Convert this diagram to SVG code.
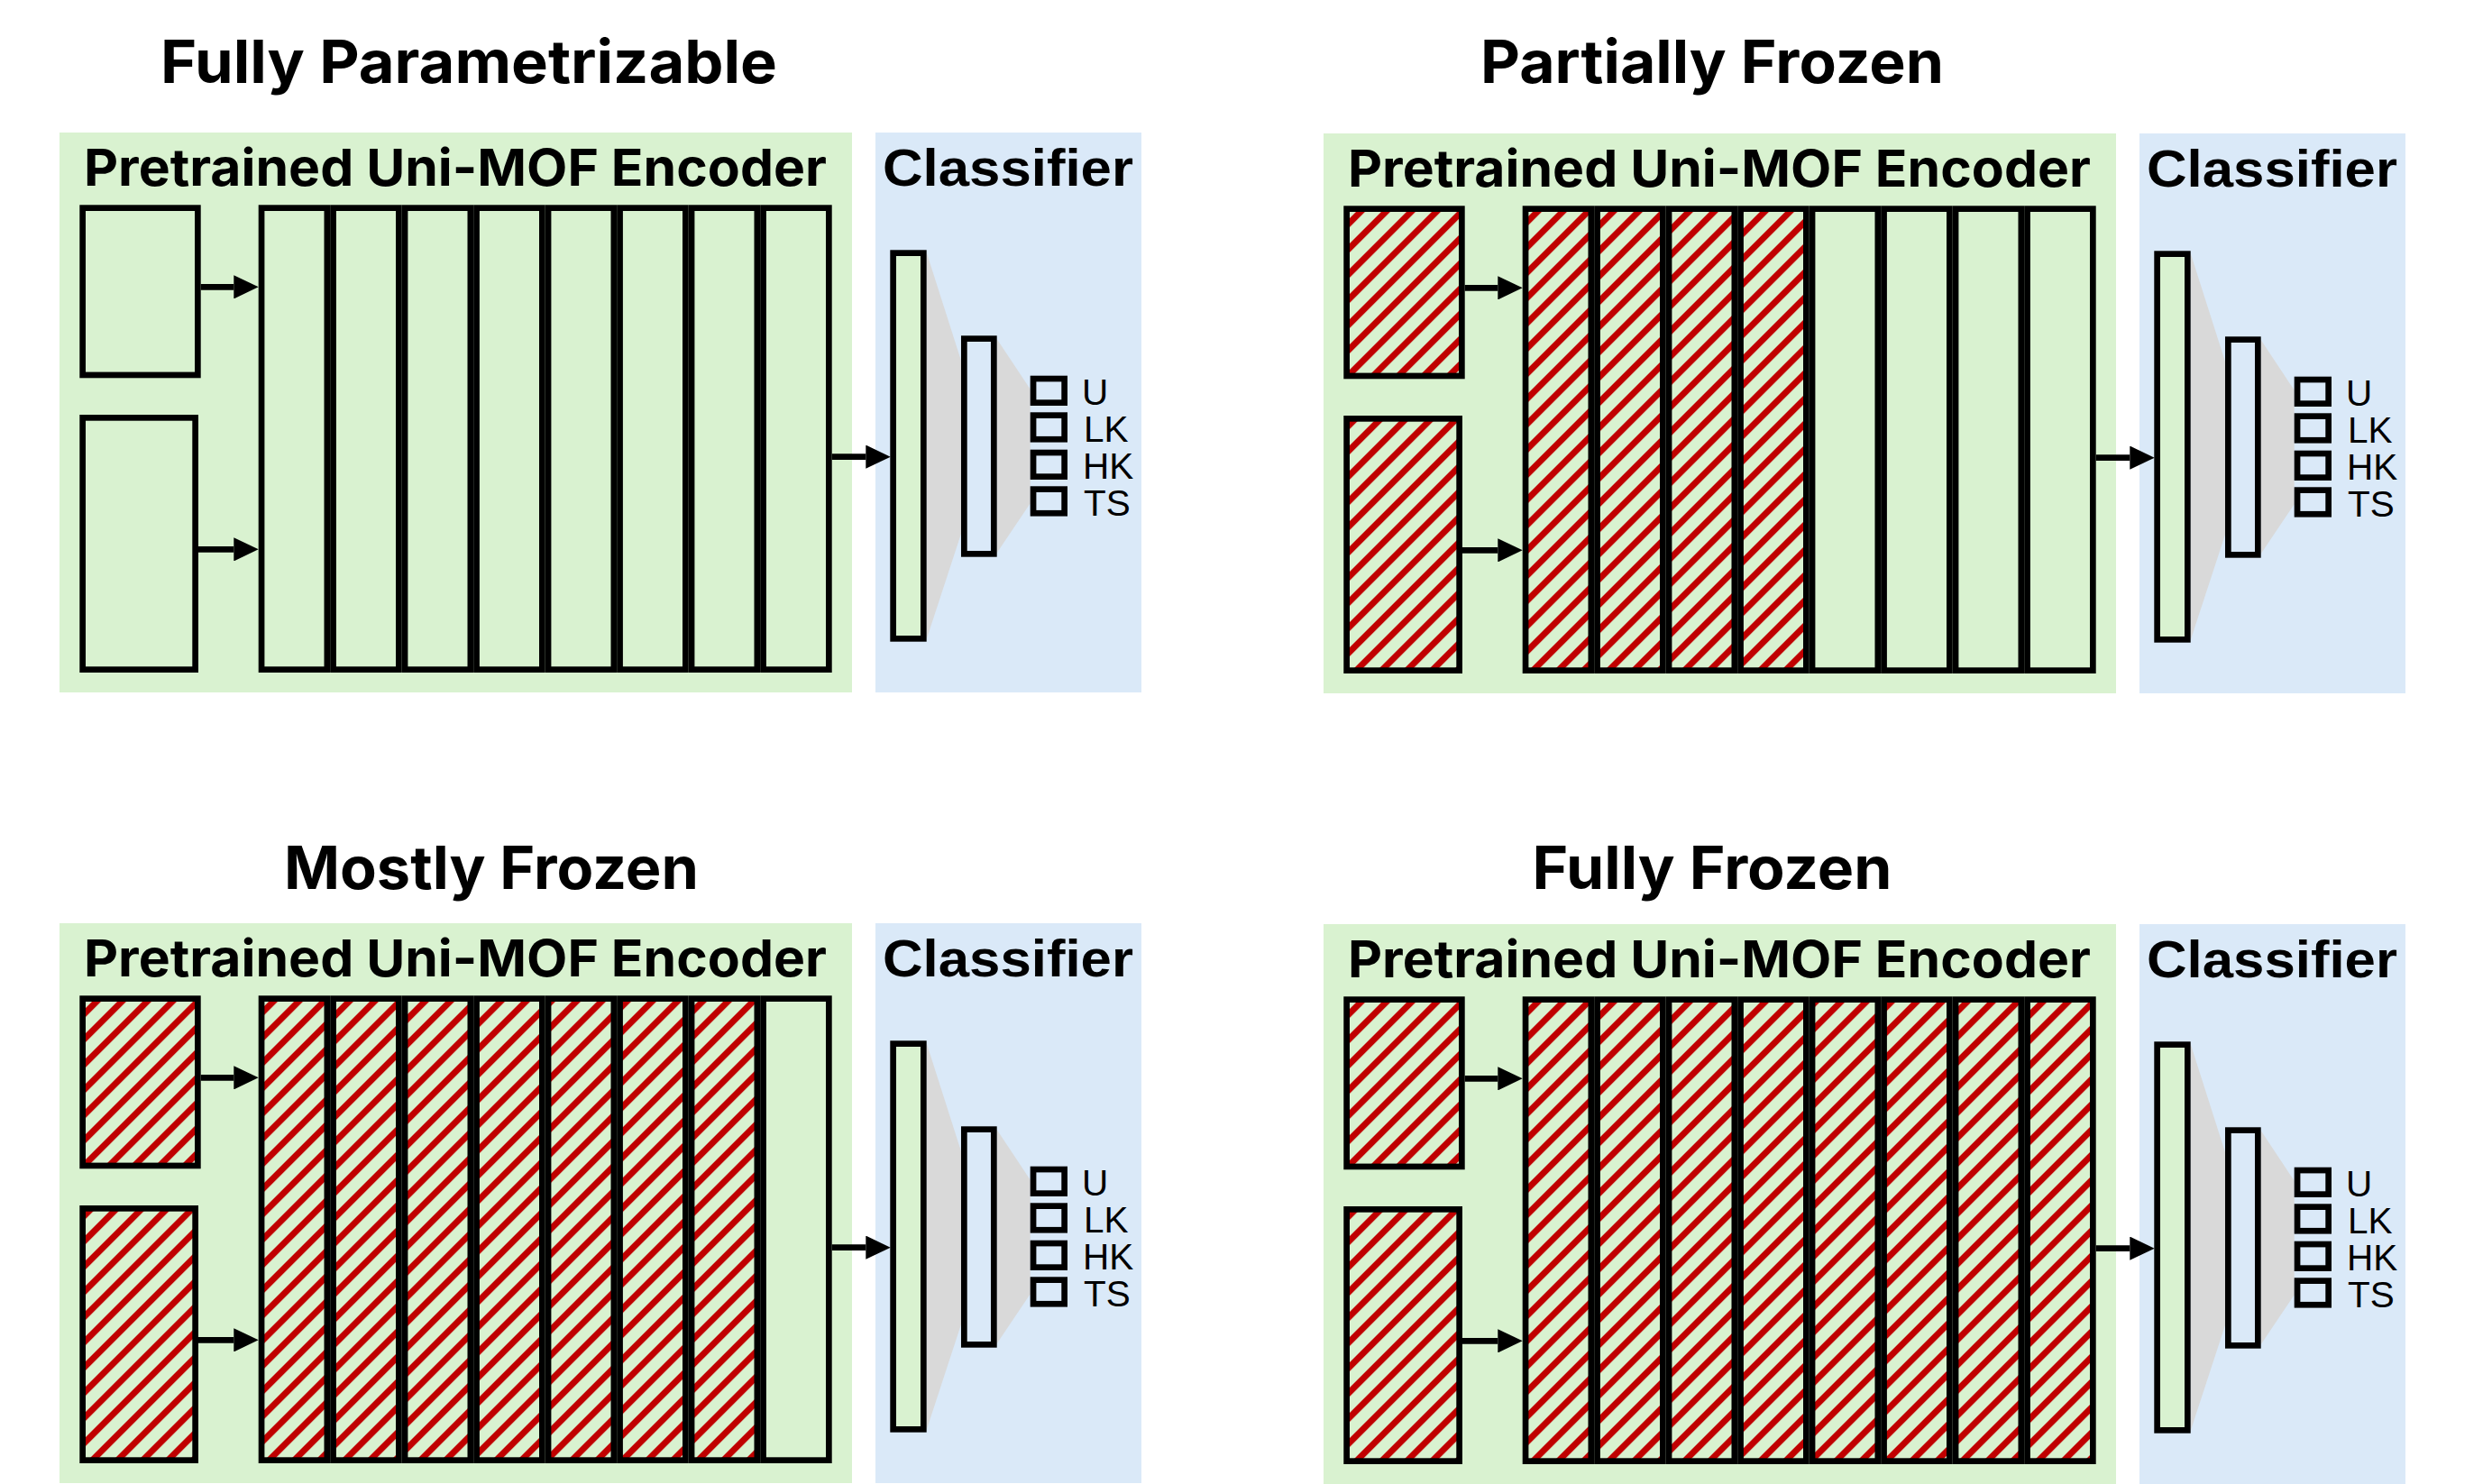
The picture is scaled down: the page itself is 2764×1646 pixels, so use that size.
<svg xmlns="http://www.w3.org/2000/svg" width="2764" height="1646" viewBox="0 0 2764 1646">
<style>
.title{font-family:Inter,"Open Sans","Noto Sans",sans-serif;font-weight:700;font-size:66px;fill:#000}
.enc{font-family:Inter,"Open Sans","Noto Sans",sans-serif;font-weight:700;font-size:57px;fill:#000}
.cls{font-family:"Liberation Sans",Arial,sans-serif;font-weight:700;font-size:58px;fill:#000}
.out{font-family:"Liberation Sans",Arial,sans-serif;font-size:40.5px;fill:#000}
.bx{stroke:#000;stroke-width:6.7}
.g{fill:#D9F2D0}
.h{fill:url(#hatch)}
.b{fill:#DAE9F8}
.fan{fill:#D9D9D9}
.conn line{stroke:#000;stroke-width:6.7;marker-end:url(#ah)}
</style>
<defs>
<pattern id="hatch" patternUnits="userSpaceOnUse" width="19.8" height="19.8" patternTransform="rotate(45)">
<rect width="19.8" height="19.8" fill="#D9F2D0"/>
<rect width="7" height="19.8" fill="#C00000"/>
</pattern>
<marker id="ah" markerUnits="userSpaceOnUse" markerWidth="27.4" markerHeight="26.3" viewBox="0 0 27.4 26.3" refX="0" refY="13.15" orient="auto">
<path d="M0,0 L27.4,13.15 L0,26.3 z" fill="#000"/>
</marker>
</defs>
<rect width="2764" height="1646" fill="#fff"/>

<g id="titles">
<text class="title" x="520" y="91.7" text-anchor="middle" textLength="684" lengthAdjust="spacingAndGlyphs">Fully Parametrizable</text>
<text class="title" x="1899" y="91.7" text-anchor="middle" textLength="514" lengthAdjust="spacingAndGlyphs">Partially Frozen</text>
<text class="title" x="545" y="985.7" text-anchor="middle" textLength="460" lengthAdjust="spacingAndGlyphs">Mostly Frozen</text>
<text class="title" x="1899" y="985.7" text-anchor="middle" textLength="399" lengthAdjust="spacingAndGlyphs">Fully Frozen</text>
</g>

<!-- Panel 1: Fully Parametrizable -->
<g id="panel-fully-parametrizable">
<g id="p1-encoder">
<rect class="g" x="66" y="147" width="879" height="621"/>
<text class="enc" x="93" y="206" textLength="824" lengthAdjust="spacingAndGlyphs">Pretrained Uni-MOF Encoder</text>
</g>
<g id="p1-classifier">
<rect class="b" x="971" y="147" width="295" height="621"/>
<text class="cls" x="979" y="206" textLength="278" lengthAdjust="spacingAndGlyphs">Classifier</text>
</g>
<g id="p1-input1"><rect class="bx g" x="91.65" y="230.65" width="127.7" height="185.3"/></g>
<g id="p1-input2"><rect class="bx g" x="91.65" y="463.35" width="125" height="279.3"/></g>
<g id="p1-layer1"><rect class="bx g" x="290.05" y="230.65" width="72.8" height="512"/></g>
<g id="p1-layer2"><rect class="bx g" x="369.55" y="230.65" width="72.8" height="512"/></g>
<g id="p1-layer3"><rect class="bx g" x="449.05" y="230.65" width="72.8" height="512"/></g>
<g id="p1-layer4"><rect class="bx g" x="528.55" y="230.65" width="72.8" height="512"/></g>
<g id="p1-layer5"><rect class="bx g" x="608.05" y="230.65" width="72.8" height="512"/></g>
<g id="p1-layer6"><rect class="bx g" x="687.55" y="230.65" width="72.8" height="512"/></g>
<g id="p1-layer7"><rect class="bx g" x="767.05" y="230.65" width="72.8" height="512"/></g>
<g id="p1-layer8"><rect class="bx g" x="846.55" y="230.65" width="72.8" height="512"/></g>
<g id="p1-fans">
<polygon class="fan" points="1027.7,280 1066,400 1066,592 1027.7,709"/>
<polygon class="fan" points="1105.7,376 1142.7,431.7 1142.7,558.3 1105.7,613.3"/>
</g>
<g id="p1-hidden1"><rect class="bx g" x="990.65" y="280.65" width="33.7" height="427.7"/></g>
<g id="p1-hidden2"><rect class="bx b" x="1069.35" y="375.65" width="33" height="238.7"/></g>
<g id="p1-out-u"><rect class="bx b" x="1146.05" y="420.05" width="34.6" height="26.6"/><text class="out" x="1200" y="449">U</text></g>
<g id="p1-out-lk"><rect class="bx b" x="1146.05" y="460.65" width="34.6" height="26.6"/><text class="out" x="1202" y="490">LK</text></g>
<g id="p1-out-hk"><rect class="bx b" x="1146.05" y="502.05" width="34.6" height="26.6"/><text class="out" x="1201" y="531">HK</text></g>
<g id="p1-out-ts"><rect class="bx b" x="1146.05" y="542.65" width="34.6" height="26.6"/><text class="out" x="1202" y="571.7">TS</text></g>
<g id="p1-connectors" class="conn">
<line x1="222.7" y1="318.3" x2="259.3" y2="318.3"/>
<line x1="220" y1="609.3" x2="259.3" y2="609.3"/>
<line x1="922.7" y1="506.7" x2="960.3" y2="506.7"/>
</g>
</g>

<!-- Panel 2: Partially Frozen -->
<g id="panel-partially-frozen" transform="translate(1402,1)">
<g id="p2-encoder">
<rect class="g" x="66" y="147" width="879" height="621"/>
<text class="enc" x="93" y="206" textLength="824" lengthAdjust="spacingAndGlyphs">Pretrained Uni-MOF Encoder</text>
</g>
<g id="p2-classifier">
<rect class="b" x="971" y="147" width="295" height="621"/>
<text class="cls" x="979" y="206" textLength="278" lengthAdjust="spacingAndGlyphs">Classifier</text>
</g>
<g id="p2-input1"><rect class="bx h" x="91.65" y="230.65" width="127.7" height="185.3"/></g>
<g id="p2-input2"><rect class="bx h" x="91.65" y="463.35" width="125" height="279.3"/></g>
<g id="p2-layer1"><rect class="bx h" x="290.05" y="230.65" width="72.8" height="512"/></g>
<g id="p2-layer2"><rect class="bx h" x="369.55" y="230.65" width="72.8" height="512"/></g>
<g id="p2-layer3"><rect class="bx h" x="449.05" y="230.65" width="72.8" height="512"/></g>
<g id="p2-layer4"><rect class="bx h" x="528.55" y="230.65" width="72.8" height="512"/></g>
<g id="p2-layer5"><rect class="bx g" x="608.05" y="230.65" width="72.8" height="512"/></g>
<g id="p2-layer6"><rect class="bx g" x="687.55" y="230.65" width="72.8" height="512"/></g>
<g id="p2-layer7"><rect class="bx g" x="767.05" y="230.65" width="72.8" height="512"/></g>
<g id="p2-layer8"><rect class="bx g" x="846.55" y="230.65" width="72.8" height="512"/></g>
<g id="p2-fans">
<polygon class="fan" points="1027.7,280 1066,400 1066,592 1027.7,709"/>
<polygon class="fan" points="1105.7,376 1142.7,431.7 1142.7,558.3 1105.7,613.3"/>
</g>
<g id="p2-hidden1"><rect class="bx g" x="990.65" y="280.65" width="33.7" height="427.7"/></g>
<g id="p2-hidden2"><rect class="bx b" x="1069.35" y="375.65" width="33" height="238.7"/></g>
<g id="p2-out-u"><rect class="bx b" x="1146.05" y="420.05" width="34.6" height="26.6"/><text class="out" x="1200" y="449">U</text></g>
<g id="p2-out-lk"><rect class="bx b" x="1146.05" y="460.65" width="34.6" height="26.6"/><text class="out" x="1202" y="490">LK</text></g>
<g id="p2-out-hk"><rect class="bx b" x="1146.05" y="502.05" width="34.6" height="26.6"/><text class="out" x="1201" y="531">HK</text></g>
<g id="p2-out-ts"><rect class="bx b" x="1146.05" y="542.65" width="34.6" height="26.6"/><text class="out" x="1202" y="571.7">TS</text></g>
<g id="p2-connectors" class="conn">
<line x1="222.7" y1="318.3" x2="259.3" y2="318.3"/>
<line x1="220" y1="609.3" x2="259.3" y2="609.3"/>
<line x1="922.7" y1="506.7" x2="960.3" y2="506.7"/>
</g>
</g>

<!-- Panel 3: Mostly Frozen -->
<g id="panel-mostly-frozen" transform="translate(0,877)">
<g id="p3-encoder">
<rect class="g" x="66" y="147" width="879" height="621"/>
<text class="enc" x="93" y="206" textLength="824" lengthAdjust="spacingAndGlyphs">Pretrained Uni-MOF Encoder</text>
</g>
<g id="p3-classifier">
<rect class="b" x="971" y="147" width="295" height="621"/>
<text class="cls" x="979" y="206" textLength="278" lengthAdjust="spacingAndGlyphs">Classifier</text>
</g>
<g id="p3-input1"><rect class="bx h" x="91.65" y="230.65" width="127.7" height="185.3"/></g>
<g id="p3-input2"><rect class="bx h" x="91.65" y="463.35" width="125" height="279.3"/></g>
<g id="p3-layer1"><rect class="bx h" x="290.05" y="230.65" width="72.8" height="512"/></g>
<g id="p3-layer2"><rect class="bx h" x="369.55" y="230.65" width="72.8" height="512"/></g>
<g id="p3-layer3"><rect class="bx h" x="449.05" y="230.65" width="72.8" height="512"/></g>
<g id="p3-layer4"><rect class="bx h" x="528.55" y="230.65" width="72.8" height="512"/></g>
<g id="p3-layer5"><rect class="bx h" x="608.05" y="230.65" width="72.8" height="512"/></g>
<g id="p3-layer6"><rect class="bx h" x="687.55" y="230.65" width="72.8" height="512"/></g>
<g id="p3-layer7"><rect class="bx h" x="767.05" y="230.65" width="72.8" height="512"/></g>
<g id="p3-layer8"><rect class="bx g" x="846.55" y="230.65" width="72.8" height="512"/></g>
<g id="p3-fans">
<polygon class="fan" points="1027.7,280 1066,400 1066,592 1027.7,709"/>
<polygon class="fan" points="1105.7,376 1142.7,431.7 1142.7,558.3 1105.7,613.3"/>
</g>
<g id="p3-hidden1"><rect class="bx g" x="990.65" y="280.65" width="33.7" height="427.7"/></g>
<g id="p3-hidden2"><rect class="bx b" x="1069.35" y="375.65" width="33" height="238.7"/></g>
<g id="p3-out-u"><rect class="bx b" x="1146.05" y="420.05" width="34.6" height="26.6"/><text class="out" x="1200" y="449">U</text></g>
<g id="p3-out-lk"><rect class="bx b" x="1146.05" y="460.65" width="34.6" height="26.6"/><text class="out" x="1202" y="490">LK</text></g>
<g id="p3-out-hk"><rect class="bx b" x="1146.05" y="502.05" width="34.6" height="26.6"/><text class="out" x="1201" y="531">HK</text></g>
<g id="p3-out-ts"><rect class="bx b" x="1146.05" y="542.65" width="34.6" height="26.6"/><text class="out" x="1202" y="571.7">TS</text></g>
<g id="p3-connectors" class="conn">
<line x1="222.7" y1="318.3" x2="259.3" y2="318.3"/>
<line x1="220" y1="609.3" x2="259.3" y2="609.3"/>
<line x1="922.7" y1="506.7" x2="960.3" y2="506.7"/>
</g>
</g>

<!-- Panel 4: Fully Frozen -->
<g id="panel-fully-frozen" transform="translate(1402,878)">
<g id="p4-encoder">
<rect class="g" x="66" y="147" width="879" height="621"/>
<text class="enc" x="93" y="206" textLength="824" lengthAdjust="spacingAndGlyphs">Pretrained Uni-MOF Encoder</text>
</g>
<g id="p4-classifier">
<rect class="b" x="971" y="147" width="295" height="621"/>
<text class="cls" x="979" y="206" textLength="278" lengthAdjust="spacingAndGlyphs">Classifier</text>
</g>
<g id="p4-input1"><rect class="bx h" x="91.65" y="230.65" width="127.7" height="185.3"/></g>
<g id="p4-input2"><rect class="bx h" x="91.65" y="463.35" width="125" height="279.3"/></g>
<g id="p4-layer1"><rect class="bx h" x="290.05" y="230.65" width="72.8" height="512"/></g>
<g id="p4-layer2"><rect class="bx h" x="369.55" y="230.65" width="72.8" height="512"/></g>
<g id="p4-layer3"><rect class="bx h" x="449.05" y="230.65" width="72.8" height="512"/></g>
<g id="p4-layer4"><rect class="bx h" x="528.55" y="230.65" width="72.8" height="512"/></g>
<g id="p4-layer5"><rect class="bx h" x="608.05" y="230.65" width="72.8" height="512"/></g>
<g id="p4-layer6"><rect class="bx h" x="687.55" y="230.65" width="72.8" height="512"/></g>
<g id="p4-layer7"><rect class="bx h" x="767.05" y="230.65" width="72.8" height="512"/></g>
<g id="p4-layer8"><rect class="bx h" x="846.55" y="230.65" width="72.8" height="512"/></g>
<g id="p4-fans">
<polygon class="fan" points="1027.7,280 1066,400 1066,592 1027.7,709"/>
<polygon class="fan" points="1105.7,376 1142.7,431.7 1142.7,558.3 1105.7,613.3"/>
</g>
<g id="p4-hidden1"><rect class="bx g" x="990.65" y="280.65" width="33.7" height="427.7"/></g>
<g id="p4-hidden2"><rect class="bx b" x="1069.35" y="375.65" width="33" height="238.7"/></g>
<g id="p4-out-u"><rect class="bx b" x="1146.05" y="420.05" width="34.6" height="26.6"/><text class="out" x="1200" y="449">U</text></g>
<g id="p4-out-lk"><rect class="bx b" x="1146.05" y="460.65" width="34.6" height="26.6"/><text class="out" x="1202" y="490">LK</text></g>
<g id="p4-out-hk"><rect class="bx b" x="1146.05" y="502.05" width="34.6" height="26.6"/><text class="out" x="1201" y="531">HK</text></g>
<g id="p4-out-ts"><rect class="bx b" x="1146.05" y="542.65" width="34.6" height="26.6"/><text class="out" x="1202" y="571.7">TS</text></g>
<g id="p4-connectors" class="conn">
<line x1="222.7" y1="318.3" x2="259.3" y2="318.3"/>
<line x1="220" y1="609.3" x2="259.3" y2="609.3"/>
<line x1="922.7" y1="506.7" x2="960.3" y2="506.7"/>
</g>
</g>
</svg>
